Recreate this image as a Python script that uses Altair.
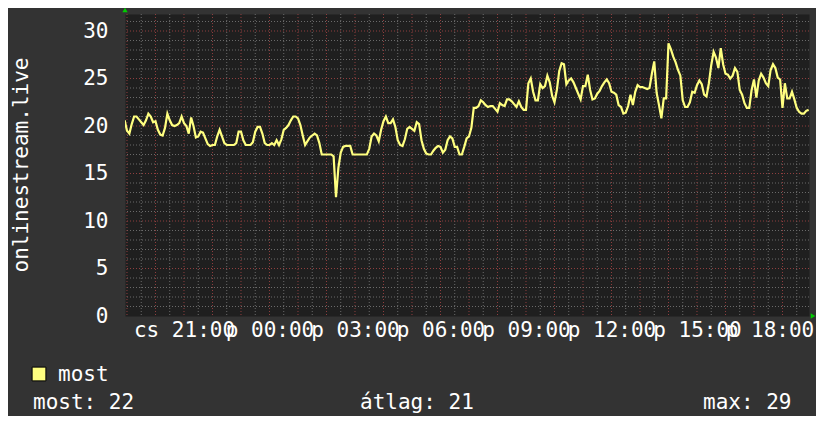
import altair as alt
import pandas as pd

# ---- data (5-minute samples, starting Thu 18:55) ----
start_hour = 18 + 55 / 60.0
step_hours = 5 / 60.0
values = [
    20.6, 19.5, 19.2, 20.2, 21.0, 21.0, 20.7, 20.4, 20.1, 20.6, 21.3, 21.0,
    20.4, 20.5, 19.6, 19.1, 19.0, 19.8, 21.3, 20.6, 20.1, 20.0, 20.1, 20.3,
    21.0, 20.3, 20.0, 19.2, 20.9, 20.0, 18.8, 18.9, 19.4, 19.3, 18.7, 18.1,
    17.9, 18.0, 18.0, 18.9, 19.6, 18.9, 18.2, 18.0, 18.0, 18.0, 18.0, 18.2,
    19.4, 19.4, 18.5, 18.0, 18.0, 18.0, 18.3, 19.4, 19.9, 19.9, 19.2, 18.2,
    18.0, 18.0, 18.2, 18.0, 18.5, 18.0, 18.6, 19.6, 19.8, 20.1, 20.6, 21.0,
    21.0, 20.8, 20.1, 19.0, 18.0, 18.4, 18.8, 19.0, 19.2, 19.0, 18.2, 17.0,
    17.0, 17.0, 17.0, 17.0, 16.8, 12.5, 15.6, 17.2, 17.8, 17.9, 17.9, 17.9,
    17.0, 17.0, 17.0, 17.0, 17.0, 17.0, 17.0, 17.6, 18.9, 19.2, 19.0, 18.4,
    19.6, 20.5, 21.0, 20.3, 20.3, 20.7, 19.9, 18.5, 18.0, 17.9, 18.6, 19.7,
    19.9, 19.7, 19.5, 20.4, 20.2, 18.5, 17.6, 17.1, 17.0, 17.0, 17.4, 17.7,
    17.9, 17.8, 17.2, 17.5, 18.5, 18.9, 18.7, 17.8, 17.8, 17.0, 17.0, 17.8,
    18.7, 18.9, 19.8, 21.9, 21.9, 22.1, 22.7, 22.5, 22.2, 22.0, 22.1, 22.1,
    21.8, 21.5, 22.4, 22.2, 22.1, 22.8, 22.8, 22.6, 22.3, 22.0, 22.6, 22.0,
    21.7, 21.7, 24.5, 25.0, 23.6, 22.7, 22.7, 24.4, 24.0, 24.2, 25.3, 24.6,
    23.2, 22.5, 23.8, 25.8, 26.6, 26.5, 24.4, 24.8, 25.0, 24.6, 24.0, 23.4,
    22.8, 24.2, 24.2, 25.4, 23.8, 22.8, 22.9, 23.4, 23.7, 24.2, 24.6, 24.9,
    24.5, 23.6, 23.5, 23.3, 22.2, 22.0, 21.3, 21.4, 22.1, 23.3, 22.2, 23.6,
    24.3, 24.1, 24.1, 24.0, 23.9, 24.0, 25.5, 26.8, 23.5, 22.2, 20.8, 22.9,
    22.9, 28.7, 28.1, 27.3, 26.7, 25.9, 25.3, 22.7, 22.0, 22.0, 22.5, 23.6,
    23.5, 24.3, 24.8, 24.4, 23.3, 23.1, 24.5, 26.4, 27.8, 27.2, 26.1, 28.2,
    26.5, 25.5, 25.4, 25.0, 25.3, 26.1, 25.7, 23.8, 23.3, 22.4, 21.9, 21.9,
    23.8, 24.9, 23.0, 24.8, 25.5, 25.1, 24.5, 24.2, 25.9, 26.5, 26.1, 25.1,
    24.9, 21.9, 24.5, 22.9, 22.9, 23.6, 22.8, 21.9, 21.5, 21.3, 21.3, 21.6,
    21.7,
]
hours = [start_hour + i * step_hours for i in range(len(values))]

tick_hours = [21, 24, 27, 30, 33, 36, 39, 42]
tick_labels = ["cs 21:00", "p 00:00", "p 03:00", "p 06:00", "p 09:00",
               "p 12:00", "p 15:00", "p 18:00"]
y_ticks = [0, 5, 10, 15, 20, 25, 30]
y_title = "onlinestream.live"
legend_name = "most"
stat_texts = ["most: 22", "átlag: 21", "max: 29"]

minor_x = [19 + 0.5 * k for k in range(48) if k % 2 == 1]
major_x = [19 + k for k in range(24)]
minor_y = [v for v in range(1, 32) if v % 5 != 0]
major_y = [5, 10, 15, 20, 25, 30]

x_domain = [18.93, 42.93]
y_domain = [0, 31.79]

FONT = "DejaVu Sans Mono"
FS = 21
LINE = "#ffff80"

xs = alt.Scale(domain=x_domain, nice=False, zero=False)
ys = alt.Scale(domain=y_domain, nice=False, zero=False)

df = pd.DataFrame({"h": hours, "v": values})

label_expr = ("[" + ",".join("'%s'" % t for t in tick_labels) + "][indexof(["
              + ",".join(str(h) for h in tick_hours) + "], datum.value)]")

x_axis = alt.Axis(values=tick_hours, labelExpr=label_expr, grid=False,
                  domain=False, ticks=False, labelOverlap=False,
                  labelFlush=False, labelBound=False,
                  labelColor="#ffffff", labelFont=FONT,
                  labelFontSize=FS, labelPadding=14,
                  labelOffset=alt.ExprRef("datum.value == 42 ? -13 : 0"),
                  labelBaseline="middle", labelAlign="center")
y_axis = alt.Axis(values=y_ticks, grid=False, domain=False,
                  ticks=False, labelColor="#ffffff", labelFont=FONT,
                  labelFontSize=FS, labelPadding=17,
                  labelBaseline="middle", labelAlign="right")

grid_minor_v = alt.Chart(pd.DataFrame({"gx": minor_x})).mark_rule(
    color="#6a6a6a", strokeWidth=1, strokeDash=[1, 2]
).encode(x=alt.X("gx:Q", scale=xs, axis=x_axis, title=None))

grid_minor_h = alt.Chart(pd.DataFrame({"gy": minor_y})).mark_rule(
    color="#6a6a6a", strokeWidth=1, strokeDash=[1, 2]
).encode(y=alt.Y("gy:Q", scale=ys, axis=y_axis, title=None))

grid_major_v = alt.Chart(pd.DataFrame({"gx": major_x})).mark_rule(
    color="#8f3f3f", strokeWidth=1, strokeDash=[1, 2]
).encode(x=alt.X("gx:Q", scale=xs, axis=x_axis, title=None))

grid_major_h = alt.Chart(pd.DataFrame({"gy": major_y})).mark_rule(
    color="#8f3f3f", strokeWidth=1, strokeDash=[1, 2]
).encode(y=alt.Y("gy:Q", scale=ys, axis=y_axis, title=None))

line = alt.Chart(df).mark_line(color=LINE, strokeWidth=2.2, clip=True).encode(
    x=alt.X("h:Q", scale=xs, title=None, axis=x_axis),
    y=alt.Y("v:Q", scale=ys, title=None, axis=y_axis),
)

title_layer = alt.Chart(pd.DataFrame({"t": [y_title]})).mark_text(
    angle=270, font=FONT, fontSize=FS, color="#ffffff", align="center",
    baseline="middle"
).encode(x=alt.value(-103), y=alt.value(151), text="t:N")

arrow_up = alt.Chart(pd.DataFrame({"a": [1]})).mark_point(
    shape="triangle-up", filled=True, color="#00cc00", size=28, opacity=1
).encode(x=alt.value(0), y=alt.value(-4))

arrow_right = alt.Chart(pd.DataFrame({"a": [1]})).mark_point(
    shape="triangle-right", filled=True, color="#00cc00", size=28, opacity=1
).encode(x=alt.value(688), y=alt.value(302))

legend_box = alt.Chart(pd.DataFrame({"a": [1]})).mark_square(
    size=190, fill=LINE, stroke="#000000", strokeWidth=1, opacity=1
).encode(x=alt.value(-86), y=alt.value(360))

legend_lbl = alt.Chart(pd.DataFrame({"t": [legend_name]})).mark_text(
    font=FONT, fontSize=FS, color="#ffffff", align="left", baseline="alphabetic"
).encode(x=alt.value(-67), y=alt.value(367), text="t:N")

stat_x = [-92, 235, 578]
stat_layers = [
    alt.Chart(pd.DataFrame({"t": [txt]})).mark_text(
        font=FONT, fontSize=FS, color="#ffffff", align="left",
        baseline="alphabetic"
    ).encode(x=alt.value(px), y=alt.value(395), text="t:N")
    for txt, px in zip(stat_texts, stat_x)
]

chart = alt.layer(
    grid_minor_v, grid_minor_h, grid_major_v, grid_major_h, line,
    title_layer, arrow_up, arrow_right, legend_box, legend_lbl, *stat_layers
).properties(
    width=684, height=302,
    padding={"left": 117, "top": 6, "right": 7, "bottom": 100},
    autosize=alt.AutoSizeParams(type="none"),
    background="#333333",
).configure_view(fill="#1f1f1f", stroke="transparent")

chart.save("out.html", embed_options={"renderer": "svg", "actions": False})
